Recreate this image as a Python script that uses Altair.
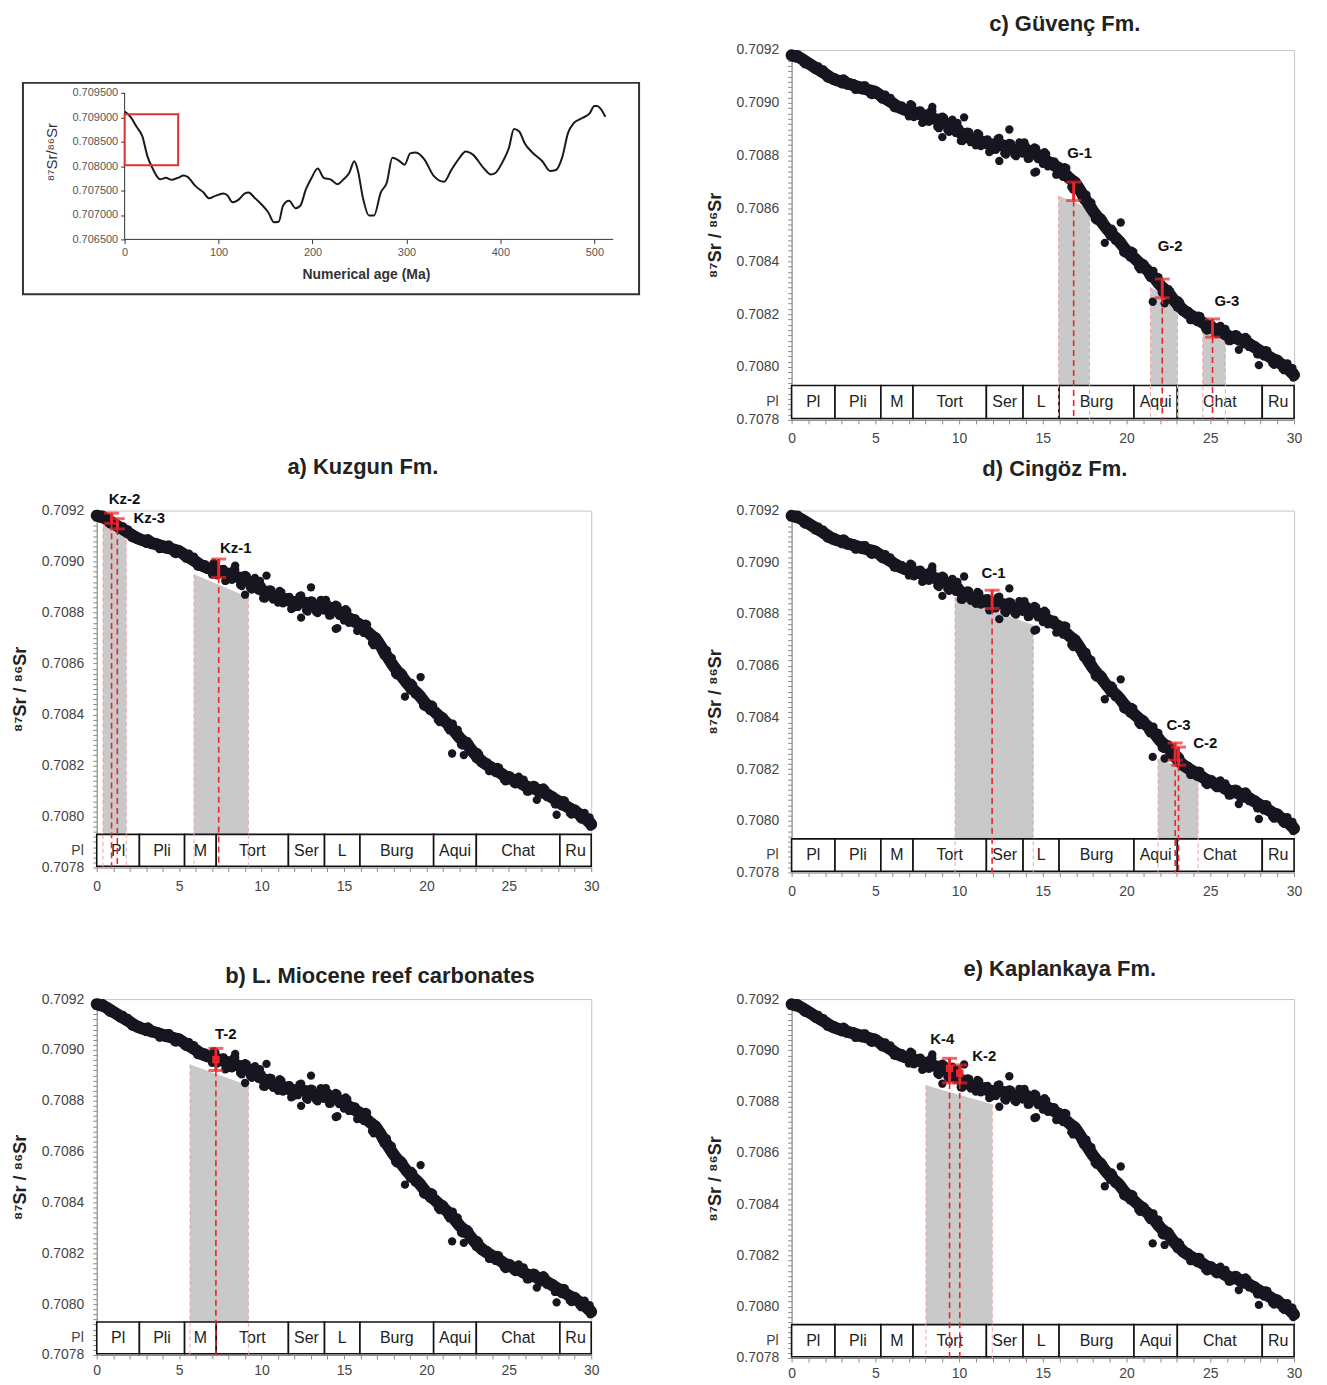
import altair as alt
import pandas as pd

FONT = "Liberation Sans"
RED = "#e8262b"
DOT = "#17151f"

# ---------------- LOWESS Sr-isotope data ----------------
sr_age = [
    0.0, 0.1, 0.2, 0.3, 0.4, 0.5, 0.6, 0.7, 0.8, 0.9,
    1.0, 1.1, 1.2, 1.3, 1.4, 1.5, 1.6, 1.7, 1.8, 1.9,
    2.0, 2.1, 2.2, 2.3, 2.4, 2.5, 2.6, 2.7, 2.8, 2.9,
    3.0, 3.1, 3.2, 3.3, 3.4, 3.5, 3.6, 3.7, 3.8, 3.9,
    4.0, 4.1, 4.2, 4.3, 4.4, 4.5, 4.6, 4.7, 4.8, 4.9,
    5.0, 5.1, 5.2, 5.3, 5.4, 5.5, 5.6, 5.7, 5.8, 5.9,
    6.0, 6.1, 6.2, 6.3, 6.4, 6.5, 6.6, 6.7, 6.8, 6.9,
    7.0, 7.1, 7.2, 7.3, 7.4, 7.5, 7.6, 7.7, 7.8, 7.9,
    8.0, 8.1, 8.2, 8.3, 8.4, 8.5, 8.6, 8.7, 8.8, 8.9,
    9.0, 9.1, 9.2, 9.3, 9.4, 9.5, 9.6, 9.7, 9.8, 9.9,
    10.0, 10.1, 10.2, 10.3, 10.4, 10.5, 10.6, 10.7, 10.8, 10.9,
    11.0, 11.1, 11.2, 11.3, 11.4, 11.5, 11.6, 11.7, 11.8, 11.9,
    12.0, 12.1, 12.2, 12.3, 12.4, 12.5, 12.6, 12.7, 12.8, 12.9,
    13.0, 13.1, 13.2, 13.3, 13.4, 13.5, 13.6, 13.7, 13.8, 13.9,
    14.0, 14.1, 14.2, 14.3, 14.4, 14.5, 14.6, 14.7, 14.8, 14.9,
    15.0, 15.1, 15.2, 15.3, 15.4, 15.5, 15.6, 15.7, 15.8, 15.9,
    16.0, 16.1, 16.2, 16.3, 16.4, 16.5, 16.6, 16.7, 16.8, 16.9,
    17.0, 17.1, 17.2, 17.3, 17.4, 17.5, 17.6, 17.7, 17.8, 17.9,
    18.0, 18.1, 18.2, 18.3, 18.4, 18.5, 18.6, 18.7, 18.8, 18.9,
    19.0, 19.1, 19.2, 19.3, 19.4, 19.5, 19.6, 19.7, 19.8, 19.9,
    20.0, 20.1, 20.2, 20.3, 20.4, 20.5, 20.6, 20.7, 20.8, 20.9,
    21.0, 21.1, 21.2, 21.3, 21.4, 21.5, 21.6, 21.7, 21.8, 21.9,
    22.0, 22.1, 22.2, 22.3, 22.4, 22.5, 22.6, 22.7, 22.8, 22.9,
    23.0, 23.1, 23.2, 23.3, 23.4, 23.5, 23.6, 23.7, 23.8, 23.9,
    24.0, 24.1, 24.2, 24.3, 24.4, 24.5, 24.6, 24.7, 24.8, 24.9,
    25.0, 25.1, 25.2, 25.3, 25.4, 25.5, 25.6, 25.7, 25.8, 25.9,
    26.0, 26.1, 26.2, 26.3, 26.4, 26.5, 26.6, 26.7, 26.8, 26.9,
    27.0, 27.1, 27.2, 27.3, 27.4, 27.5, 27.6, 27.7, 27.8, 27.9,
    28.0, 28.1, 28.2, 28.3, 28.4, 28.5, 28.6, 28.7, 28.8, 28.9,
    29.0, 29.1, 29.2, 29.3, 29.4, 29.5, 29.6, 29.7, 29.8, 29.9,
    30.0,
]
sr_ratio = [
    0.709184, 0.709172, 0.709169, 0.709184, 0.709183, 0.709169, 0.709164, 0.709151, 0.709146, 0.709159,
    0.709157, 0.709153, 0.709143, 0.709130, 0.709124, 0.709132, 0.709138, 0.709118, 0.709113, 0.709126,
    0.709116, 0.709094, 0.709091, 0.709102, 0.709096, 0.709098, 0.709096, 0.709080, 0.709080, 0.709082,
    0.709070, 0.709092, 0.709088, 0.709065, 0.709072, 0.709067, 0.709074, 0.709074, 0.709049, 0.709050,
    0.709065, 0.709050, 0.709047, 0.709066, 0.709066, 0.709048, 0.709045, 0.709032, 0.709029, 0.709048,
    0.709049, 0.709045, 0.709034, 0.709018, 0.709012, 0.709023, 0.709031, 0.709008, 0.709002, 0.709019,
    0.709008, 0.708981, 0.708979, 0.708992, 0.708987, 0.708990, 0.708989, 0.708968, 0.708970, 0.708972,
    0.708949, 0.708995, 0.708990, 0.708946, 0.708962, 0.708954, 0.708970, 0.708971, 0.708924, 0.708928,
    0.708959, 0.708933, 0.708928, 0.708968, 0.708969, 0.708937, 0.708932, 0.708909, 0.708904, 0.708944,
    0.708948, 0.708944, 0.708925, 0.708897, 0.708890, 0.708916, 0.708936, 0.708893, 0.708886, 0.708924,
    0.708905, 0.708856, 0.708855, 0.708887, 0.708880, 0.708891, 0.708889, 0.708851, 0.708855, 0.708862,
    0.708839, 0.708885, 0.708880, 0.708836, 0.708852, 0.708844, 0.708860, 0.708861, 0.708814, 0.708818,
    0.708849, 0.708825, 0.708822, 0.708864, 0.708867, 0.708837, 0.708832, 0.708809, 0.708804, 0.708844,
    0.708848, 0.708846, 0.708829, 0.708803, 0.708798, 0.708826, 0.708850, 0.708811, 0.708808, 0.708850,
    0.708835, 0.708788, 0.708789, 0.708823, 0.708818, 0.708831, 0.708827, 0.708787, 0.708789, 0.708794,
    0.708769, 0.708813, 0.708806, 0.708760, 0.708774, 0.708764, 0.708778, 0.708777, 0.708728, 0.708730,
    0.708759, 0.708729, 0.708720, 0.708756, 0.708753, 0.708717, 0.708708, 0.708681, 0.708672, 0.708708,
    0.708703, 0.708693, 0.708672, 0.708645, 0.708632, 0.708644, 0.708652, 0.708613, 0.708601, 0.708622,
    0.708601, 0.708560, 0.708554, 0.708573, 0.708562, 0.708565, 0.708557, 0.708523, 0.708519, 0.708518,
    0.708495, 0.708524, 0.708516, 0.708479, 0.708486, 0.708476, 0.708481, 0.708475, 0.708434, 0.708430,
    0.708447, 0.708423, 0.708415, 0.708440, 0.708436, 0.708408, 0.708400, 0.708378, 0.708370, 0.708395,
    0.708393, 0.708387, 0.708370, 0.708347, 0.708338, 0.708354, 0.708364, 0.708327, 0.708317, 0.708340,
    0.708321, 0.708282, 0.708278, 0.708299, 0.708290, 0.708295, 0.708287, 0.708253, 0.708249, 0.708248,
    0.708226, 0.708252, 0.708244, 0.708210, 0.708216, 0.708206, 0.708214, 0.708212, 0.708178, 0.708178,
    0.708196, 0.708176, 0.708170, 0.708194, 0.708192, 0.708168, 0.708162, 0.708144, 0.708138, 0.708162,
    0.708162, 0.708160, 0.708148, 0.708130, 0.708126, 0.708144, 0.708156, 0.708126, 0.708120, 0.708144,
    0.708130, 0.708098, 0.708098, 0.708120, 0.708116, 0.708124, 0.708122, 0.708096, 0.708098, 0.708102,
    0.708086, 0.708114, 0.708108, 0.708076, 0.708084, 0.708076, 0.708084, 0.708082, 0.708048, 0.708048,
    0.708066, 0.708046, 0.708040, 0.708064, 0.708062, 0.708038, 0.708032, 0.708014, 0.708008, 0.708032,
    0.708032, 0.708028, 0.708013, 0.707994, 0.707988, 0.708004, 0.708014, 0.707982, 0.707974, 0.707996,
    0.707980,
]
outlier_age = [8.4, 10.3, 13.0, 12.4, 14.5, 14.6, 19.65, 21.56, 22.27, 26.7, 27.9, 29.95, 9.0, 18.7]
outlier_ratio = [0.708984, 0.708945, 0.708899, 0.708780, 0.708736, 0.708739, 0.708547,
                 0.708247, 0.708241, 0.708065, 0.708007, 0.707960, 0.708870, 0.708470]

# dense core of the point cloud (central trend of the band, read every 0.5 Ma)
core_age = [0.0, 0.5, 1.0, 1.5, 2.0, 2.5, 3.0, 3.5, 4.0, 4.5,
            5.0, 5.5, 6.0, 6.5, 7.0, 7.5, 8.0, 8.5, 9.0, 9.5,
            10.0, 10.5, 11.0, 11.5, 12.0, 12.5, 13.0, 13.5, 14.0, 14.5,
            15.0, 15.5, 16.0, 16.5, 17.0, 17.5, 18.0, 18.5, 19.0, 19.5,
            20.0, 20.5, 21.0, 21.5, 22.0, 22.5, 23.0, 23.5, 24.0, 24.5,
            25.0, 25.5, 26.0, 26.5, 27.0, 27.5, 28.0, 28.5, 29.0, 29.5, 30.0]
core_ratio = [0.709180, 0.709170, 0.709150, 0.709130, 0.709110, 0.709090, 0.709080, 0.709070, 0.709060, 0.709050,
              0.709040, 0.709020, 0.709000, 0.708980, 0.708970, 0.708960, 0.708950, 0.708940, 0.708930, 0.708910,
              0.708890, 0.708870, 0.708860, 0.708850, 0.708840, 0.708840, 0.708830, 0.708820, 0.708820, 0.708810,
              0.708790, 0.708770, 0.708750, 0.708720, 0.708690, 0.708640, 0.708590, 0.708550, 0.708510, 0.708480,
              0.708440, 0.708410, 0.708380, 0.708350, 0.708310, 0.708280, 0.708240, 0.708210, 0.708190, 0.708170,
              0.708150, 0.708140, 0.708120, 0.708110, 0.708100, 0.708080, 0.708060, 0.708040, 0.708020, 0.708000,
              0.707970]

# ---------------- chronostratigraphic band ----------------
stage_names = ["Pl", "Pli", "M", "Tort", "Ser", "L", "Burg", "Aqui", "Chat", "Ru"]
stage_start = [0.0, 2.59, 5.33, 7.25, 11.63, 13.82, 15.97, 20.44, 23.03, 28.1]
stage_end = [2.59, 5.33, 7.25, 11.63, 13.82, 15.97, 20.44, 23.03, 28.1, 30.0]

# ---------------- inset: full Phanerozoic curve ----------------
inset_age = [0, 6.3, 12.6, 18.9, 24.3, 29.4, 37.8, 44, 50, 56.6,
             63, 67, 75.5, 84, 90, 96.5, 105, 109, 115, 121,
             128, 132, 138, 145, 153, 159, 164, 168.6, 175, 182,
             187, 193, 199, 205.5, 212, 220, 226.5, 233, 239, 244.5,
             248, 254, 260, 265.5, 272.6, 279, 285, 291.5, 298, 304,
             310, 319, 329, 340, 348, 356.5, 363, 371, 381.7, 390,
             394, 402.7, 409, 414.4, 420, 425.8, 434, 444.6, 453, 459,
             465.6, 472, 478, 486.6, 495, 500, 503, 511.7]
inset_ratio = [0.709115, 0.70901, 0.70881, 0.70861, 0.70820, 0.70797, 0.70773, 0.70776, 0.70772, 0.70776,
               0.70781, 0.70778, 0.70759, 0.70746, 0.70734, 0.70739, 0.70744, 0.70741, 0.70726, 0.70731,
               0.70744, 0.70746, 0.70736, 0.70723, 0.70705, 0.70685, 0.70686, 0.70719, 0.70729, 0.70714,
               0.70719, 0.70753, 0.70776, 0.70795, 0.70776, 0.70772, 0.70763, 0.70773, 0.70786, 0.70810,
               0.70793, 0.70732, 0.70699, 0.70699, 0.70746, 0.70766, 0.70817, 0.70812, 0.70803, 0.70826,
               0.70828, 0.70814, 0.70780, 0.70768, 0.70793, 0.70817, 0.70830, 0.70823, 0.70797, 0.70783,
               0.70785, 0.70810, 0.70837, 0.70876, 0.70871, 0.70847, 0.70828, 0.70810, 0.70790, 0.70792,
               0.70817, 0.70868, 0.70888, 0.70898, 0.70908, 0.70923, 0.70923, 0.70901]
inset_box_age = [0, 57]
inset_box_ratio = [0.70802, 0.70906]
inset_x_labels = [0, 100, 200, 300, 400, 500]
inset_y_labels = [0.7065, 0.7070, 0.7075, 0.7080, 0.7085, 0.7090, 0.7095]
inset_x_range = [0, 520]
inset_y_range = [0.7065, 0.7095]

# ---------------- samples per panel ----------------
PANELS = {
    "a": dict(title="a) Kuzgun Fm.",
              sample=["Kz-2", "Kz-3", "Kz-1"], age=[0.9, 1.25, 7.4],
              lo=[0.709150, 0.709128, 0.708938], hi=[0.709190, 0.709168, 0.709010],
              marker=[], marker_age=[],
              lab_age=[1.69, 3.19, 8.43], lab_ratio=[0.709247, 0.709169, 0.709055],
              shade_from=[0.38, 5.9], shade_to=[1.79, 9.2],
              shade_top_from=[0.70916, 0.70895], shade_top_to=[0.70911, 0.70886]),
    "b": dict(title="b) L. Miocene reef carbonates",
              sample=["T-2"], age=[7.23], lo=[0.708919], hi=[0.709006],
              marker=[0.708962], marker_age=[7.23],
              lab_age=[7.83], lab_ratio=[0.709062],
              shade_from=[5.66], shade_to=[9.2],
              shade_top_from=[0.708943], shade_top_to=[0.70886]),
    "c": dict(title="c) Güvenç Fm.",
              sample=["G-1", "G-2", "G-3"], age=[16.84, 22.13, 25.13],
              lo=[0.70863, 0.708262, 0.708113], hi=[0.70870, 0.708333, 0.708182],
              marker=[], marker_age=[],
              lab_age=[17.2, 22.6, 25.99], lab_ratio=[0.70881, 0.708457, 0.70825],
              shade_from=[15.94, 21.43, 24.55], shade_to=[17.79, 23.04, 25.9],
              shade_top_from=[0.708648, 0.708302, 0.708138], shade_top_to=[0.70860, 0.70825, 0.70810]),
    "d": dict(title="d) Cingöz Fm.",
              sample=["C-1", "C-3", "C-2"], age=[11.97, 22.9, 23.1],
              lo=[0.708821, 0.708234, 0.708215], hi=[0.708892, 0.708301, 0.708285],
              marker=[], marker_age=[],
              lab_age=[12.06, 23.1, 24.7], lab_ratio=[0.708957, 0.708371, 0.708301],
              shade_from=[9.76, 21.88], shade_to=[14.43, 24.27],
              shade_top_from=[0.708866, 0.70824], shade_top_to=[0.708757, 0.708183]),
    "e": dict(title="e) Kaplankaya Fm.",
              sample=["K-4", "K-2"], age=[9.43, 10.04],
              lo=[0.708873, 0.708873], hi=[0.708969, 0.708943],
              marker=[0.70893, 0.708911], marker_age=[9.43, 10.04],
              lab_age=[9.0, 11.5], lab_ratio=[0.709045, 0.708978],
              shade_from=[8.02], shade_to=[11.98],
              shade_top_from=[0.708864], shade_top_to=[0.70879]),
}

Y_LO, Y_HI = 0.7078, 0.7092
BAND_LO, BAND_HI, BAND_MID = 0.707805, 0.70793, 0.707866
Y_TICKS = [round(Y_LO + k * 0.00002, 5) for k in range(71)]
X_TICKS = list(range(31))

XS = alt.Scale(domain=[0, 30], nice=False, zero=False)
YS = alt.Scale(domain=[Y_LO, Y_HI], nice=False, zero=False)
ONE = pd.DataFrame([{"k": 0}])

pts_df = pd.DataFrame({"age": sr_age + outlier_age, "ratio": sr_ratio + outlier_ratio})
core_df = pd.DataFrame({"age": core_age, "ratio": core_ratio})
stage_df = pd.DataFrame({"name": stage_names, "start": stage_start, "end": stage_end})
stage_df["mid"] = (stage_df["start"] + stage_df["end"]) / 2


def bbox(L, T, W, H, R, B):
    # invisible frame that fixes each panel's cell extent in the grid
    return alt.Chart(ONE).mark_rect(opacity=0).encode(
        x=alt.value(-L), x2=alt.value(W + R), y=alt.value(-T), y2=alt.value(H + B))


def build_panel(key, W, H, L, T, R, B, xpad, tdx, tdy):
    p = PANELS[key]
    ax_x = alt.Axis(values=X_TICKS, tickCount=200,
                    labelExpr="datum.value % 5 == 0 ? format(datum.value, 'd') : ''",
                    title=None, grid=False, tickSize=4, tickColor="#8a8a8a",
                    domainColor="#8a8a8a", labelPadding=xpad, labelFontSize=14,
                    labelColor="#444", labelFont=FONT, labelOverlap=False,
                    labelFlush=False, labelBound=False)
    ax_y = alt.Axis(values=Y_TICKS, tickCount=200,
                    labelExpr="abs(round(datum.value * 100000)) % 20 == 0 ? format(datum.value, '.4f') : ''",
                    title="⁸⁷Sr / ⁸⁶Sr", titleFontSize=18, titleFontWeight="bold",
                    titleColor="#222", titleFont=FONT, titlePadding=12, grid=False,
                    tickSize=4, tickColor="#8a8a8a", domainColor="#8a8a8a",
                    labelPadding=9, labelFontSize=14, labelColor="#444", labelFont=FONT,
                    labelOverlap=False, labelBound=False)

    def X(f):
        return alt.X(f, type="quantitative", scale=XS, axis=ax_x)

    def Y(f):
        return alt.Y(f, type="quantitative", scale=YS, axis=ax_y)

    shade_rows, edge_rows = [], []
    for i, (x0, x1, t0, t1) in enumerate(zip(p["shade_from"], p["shade_to"],
                                             p["shade_top_from"], p["shade_top_to"])):
        shade_rows += [{"sid": i, "age": x0, "top": t0}, {"sid": i, "age": x1, "top": t1}]
        edge_rows += [{"age": x0, "top": t0}, {"age": x1, "top": t1}]
    shade_df = pd.DataFrame(shade_rows)
    edge_df = pd.DataFrame(edge_rows)
    s_df = pd.DataFrame({"name": p["sample"], "age": p["age"], "lo": p["lo"], "hi": p["hi"],
                         "lab_age": p["lab_age"], "lab_ratio": p["lab_ratio"]})

    layers = [
        bbox(L, T, W, H, R, B),
        alt.Chart(shade_df).mark_area(color="#c9c9c9", opacity=1).encode(
            x=X("age"), y=Y("top"), y2=alt.datum(Y_LO), detail="sid:N"),
        alt.Chart(stage_df).mark_rect(fill="white", stroke="#111", strokeWidth=1.6).encode(
            x=X("start"), x2="end", y=alt.datum(BAND_LO), y2=alt.datum(BAND_HI)),
        alt.Chart(stage_df).mark_text(fontSize=16, color="#222", font=FONT).encode(
            x=X("mid"), y=alt.datum(BAND_MID), text="name:N"),
        alt.Chart(edge_df).mark_rule(color="#f0a3a3", strokeDash=[4, 3], strokeWidth=1).encode(
            x=X("age"), y=Y("top"), y2=alt.datum(Y_LO)),
        alt.Chart(core_df).mark_line(color=DOT, strokeWidth=12, interpolate="monotone",
                                     strokeCap="round").encode(
            x=X("age"), y=Y("ratio")),
        alt.Chart(pts_df).mark_circle(size=70, color=DOT, opacity=1).encode(
            x=X("age"), y=Y("ratio")),
        alt.Chart(s_df).mark_rule(color=RED, strokeDash=[6, 4], strokeWidth=1.6).encode(
            x=X("age"), y=Y("lo"), y2=alt.datum(Y_LO)),
        alt.Chart(s_df).mark_rule(color=RED, strokeWidth=3).encode(
            x=X("age"), y=Y("lo"), y2="hi"),
        alt.Chart(s_df).mark_tick(color=RED, orient="horizontal", size=15, thickness=3).encode(
            x=X("age"), y=Y("lo")),
        alt.Chart(s_df).mark_tick(color=RED, orient="horizontal", size=15, thickness=3).encode(
            x=X("age"), y=Y("hi")),
    ]
    if p["marker"]:
        m_df = pd.DataFrame({"age": p["marker_age"], "ratio": p["marker"]})
        layers.append(alt.Chart(m_df).mark_square(size=55, color=RED, opacity=1).encode(
            x=X("age"), y=Y("ratio")))
    layers += [
        alt.Chart(s_df).mark_text(fontSize=15, fontWeight="bold", color="#111", font=FONT).encode(
            x=X("lab_age"), y=Y("lab_ratio"), text="name:N"),
        alt.Chart(ONE).mark_text(fontSize=22, fontWeight="bold", color="#222", font=FONT).encode(
            x=alt.value(tdx), y=alt.value(tdy), text=alt.value(p["title"])),
        alt.Chart(ONE).mark_text(fontSize=14, color="#444", align="right", font=FONT).encode(
            x=alt.value(-13), y=alt.datum(BAND_MID), text=alt.value("Pl")),
    ]
    return alt.layer(*layers).properties(width=W, height=H)


def build_inset(L, T, R, B):
    # the inset shares its grid column with panels a/b and its row with panel c:
    # its view is widened/heightened so that its own axes land where the figure has them
    W, H = 518, 190
    IXS = alt.Scale(domain=[-29.7, 520], nice=False, zero=False)
    IYS = alt.Scale(domain=[0.7065, 0.710378], nice=False, zero=False)
    ax_x = alt.Axis(values=inset_x_labels, title="Numerical age (Ma)", titleFontSize=14,
                    titleFontWeight="bold", titleColor="#333", titleFont=FONT, titlePadding=10,
                    grid=False, domain=False, tickSize=4, tickColor="#333",
                    labelPadding=3, labelFontSize=11, labelColor="#555", labelFont=FONT,
                    labelFlush=False, titleX=270)
    ax_y = alt.Axis(values=inset_y_labels, format=".6f", title="⁸⁷Sr/⁸⁶Sr", titleFontSize=15,
                    titleFontWeight="normal", titleColor="#333", titleFont=FONT, titlePadding=12,
                    grid=False, domain=False, offset=-28, tickSize=4, tickColor="#333",
                    labelPadding=3, labelFontSize=11, labelColor="#555", labelFont=FONT,
                    titleY=102)

    def X(f):
        return alt.X(f, type="quantitative", scale=IXS, axis=ax_x)

    def Y(f):
        return alt.Y(f, type="quantitative", scale=IYS, axis=ax_y)

    cdf = pd.DataFrame({"age": inset_age, "ratio": inset_ratio})
    bdf = pd.DataFrame([{"x0": inset_box_age[0], "x1": inset_box_age[1],
                         "y0": inset_box_ratio[0], "y1": inset_box_ratio[1]}])
    xline = pd.DataFrame([{"x0": inset_x_range[0], "x1": inset_x_range[1], "y0": inset_y_range[0]}])
    yline = pd.DataFrame([{"x0": inset_x_range[0], "y0": inset_y_range[0], "y1": inset_y_range[1]}])
    layers = [
        bbox(L, T, W, H, R, B),
        alt.Chart(ONE).mark_rect(fill="white", fillOpacity=0, stroke="#333", strokeWidth=2).encode(
            x=alt.value(-74), x2=alt.value(544), y=alt.value(33), y2=alt.value(245)),
        alt.Chart(xline).mark_rule(color="#333", strokeWidth=1).encode(
            x=X("x0"), x2="x1", y=Y("y0")),
        alt.Chart(yline).mark_rule(color="#333", strokeWidth=1).encode(
            x=X("x0"), y=Y("y0"), y2="y1"),
        alt.Chart(cdf).mark_line(color="#1a1a1a", strokeWidth=2, interpolate="monotone").encode(
            x=X("age"), y=Y("ratio")),
        alt.Chart(bdf).mark_rect(fill="white", fillOpacity=0, stroke="#e03030", strokeWidth=2).encode(
            x=X("x0"), x2="x1", y=Y("y0"), y2="y1"),
    ]
    return alt.layer(*layers).properties(width=W, height=H, view=alt.ViewBackground(stroke=None))


# grid cells: every cell of a column shares L and W+R; every cell of a row shares T and H+B
# (total width kept <= 1295 px so the page never has to shrink the drawing)
inset = build_inset(L=88, T=39, R=78, B=211)
pc = build_panel("c", 504, 371, 99, 39, 8, 30, 8, 274, -26)
pa = build_panel("a", 496, 358, 88, 59, 100, 80, 8, 267, -44)
pd_ = build_panel("d", 504, 363, 99, 59, 8, 75, 8, 264, -42)
pb = build_panel("b", 496, 357, 88, 50, 100, 30, 5, 284, -23)
pe = build_panel("e", 504, 360, 99, 50, 8, 27, 5, 269, -30)

chart = (
    alt.concat(inset, pc, pa, pd_, pb, pe, columns=2, spacing=0)
    .properties(padding=0)
    .configure(font=FONT)
    .configure_view(stroke="#c6c6c6", strokeWidth=1)
)

chart.save("out.html", embed_options={"renderer": "svg", "actions": False})
